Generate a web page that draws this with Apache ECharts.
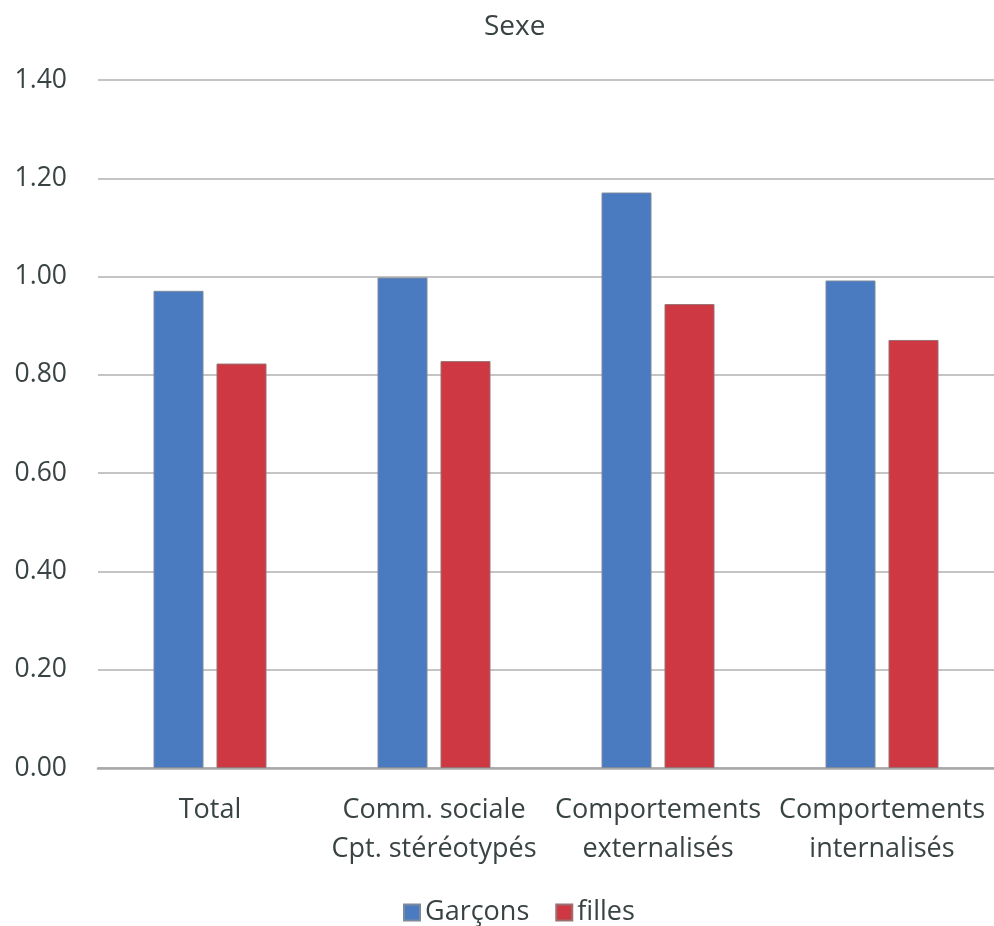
<!DOCTYPE html>
<html>
<head>
<meta charset="utf-8">
<script src="https://cdn.jsdelivr.net/npm/echarts@6/dist/echarts.min.js"></script>
<style>
  html, body { margin: 0; padding: 0; background: #ffffff; }
  #chart { width: 994px; height: 926px; }
</style>
</head>
<body>
<div id="chart"></div>
<script>
// Scores moyens par sexe
const categories = ['Total', 'Comm. sociale\nCpt. stéréotypés', 'Comportements\nexternalisés', 'Comportements\ninternalisés'];
const garcons = [0.971, 0.998, 1.171, 0.992];
const filles = [0.823, 0.828, 0.944, 0.871];
const seriesNames = ['Garçons', 'filles'];
const yTicks = { min: 0, max: 1.4, interval: 0.2 };

const FONT = '"Open Sans", sans-serif';
const TEXT = '#3a4343';

const chart = echarts.init(document.getElementById('chart'), null, { renderer: 'canvas' });
chart.setOption({
  animation: false,
  backgroundColor: '#ffffff',
  title: {
    text: 'Sexe',
    left: 479,
    top: 8,
    textStyle: { fontFamily: FONT, fontSize: 28, fontWeight: 'normal', color: TEXT }
  },
  legend: {
    data: seriesNames,
    top: 894,
    left: 398,
    icon: 'rect',
    itemWidth: 16,
    itemHeight: 16,
    itemGap: 26,
    textStyle: { fontFamily: FONT, fontSize: 27, color: TEXT }
  },
  grid: { left: 98, right: -3, top: 80, bottom: 158, containLabel: false },
  xAxis: {
    type: 'category',
    data: categories,
    axisLine: { lineStyle: { color: '#a8a8a8', width: 2.5 } },
    axisTick: { show: false },
    axisLabel: {
      interval: 0,
      margin: 23,
      fontFamily: FONT,
      fontSize: 27,
      lineHeight: 39,
      color: TEXT
    }
  },
  yAxis: {
    type: 'value',
    min: yTicks.min,
    max: yTicks.max,
    interval: yTicks.interval,
    axisLine: { show: false },
    axisTick: { show: false },
    splitLine: { lineStyle: { color: '#c4c4c4', width: 2 } },
    axisLabel: {
      margin: 31,
      fontFamily: FONT,
      fontSize: 26.5,
      color: TEXT,
      formatter: v => v.toFixed(2)
    }
  },
  series: [
    {
      name: seriesNames[0],
      type: 'bar',
      data: garcons,
      barWidth: 50,
      barGap: '26%',
      itemStyle: { color: '#4a7bc0', borderColor: '#7d8a9c', borderWidth: 1 }
    },
    {
      name: seriesNames[1],
      type: 'bar',
      data: filles,
      barWidth: 50,
      itemStyle: { color: '#cd3843', borderColor: '#9a7072', borderWidth: 1 }
    }
  ]
});
</script>
</body>
</html>
